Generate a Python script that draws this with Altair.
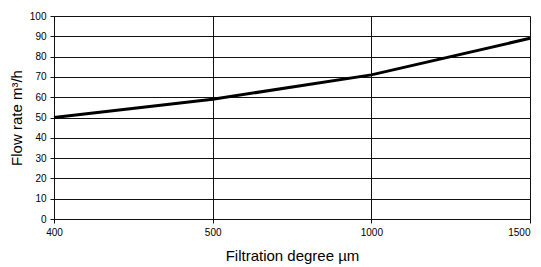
import altair as alt
import pandas as pd

degrees = ["400", "500", "1000", "1500"]
flow = [50, 59, 71, 89]
y_ticks = list(range(0, 101, 10))

df = pd.DataFrame({"degree": degrees, "flow": flow})

font = "Liberation Sans"

chart = alt.Chart(df).mark_line(color="black", strokeWidth=3).encode(
    x=alt.X(
        "degree:O",
        sort=degrees,
        scale=alt.Scale(type="point", padding=0),
        axis=alt.Axis(
            title="Filtration degree µm",
            labelAngle=0,
            labelAlign={"condition": {"test": "datum.label === '1500'", "value": "right"}, "value": "center"},
            grid=True,
            gridColor="#111111",
            gridWidth=1,
            domainColor="#111111",
            tickColor="#111111",
            tickSize=4,
            labelPadding=4,
            labelFontSize=10,
            labelFont=font,
            labelColor="black",
            titleFont=font,
            titleFontSize=15,
            titleFontWeight="normal",
            titleColor="black",
            titlePadding=11,
        ),
    ),
    y=alt.Y(
        "flow:Q",
        scale=alt.Scale(domain=[0, 100], nice=False),
        axis=alt.Axis(
            values=y_ticks,
            title="Flow rate m³/h",
            grid=True,
            gridColor="#111111",
            gridWidth=1,
            domainColor="#111111",
            tickColor="#111111",
            tickSize=4,
            labelPadding=4,
            labelFontSize=10,
            labelFont=font,
            labelColor="black",
            titleFont=font,
            titleFontSize=15,
            titleFontWeight="normal",
            titleColor="black",
            titlePadding=5,
        ),
    ),
).properties(
    width=476,
    height=203,
    autosize=alt.AutoSizeParams(type="none"),
    padding={"left": 46, "top": 8, "right": 3, "bottom": 46},
).configure_view(stroke="#111111", strokeWidth=1).configure(background="white")

chart.save("out.html", embed_options={"renderer": "svg", "actions": False})
